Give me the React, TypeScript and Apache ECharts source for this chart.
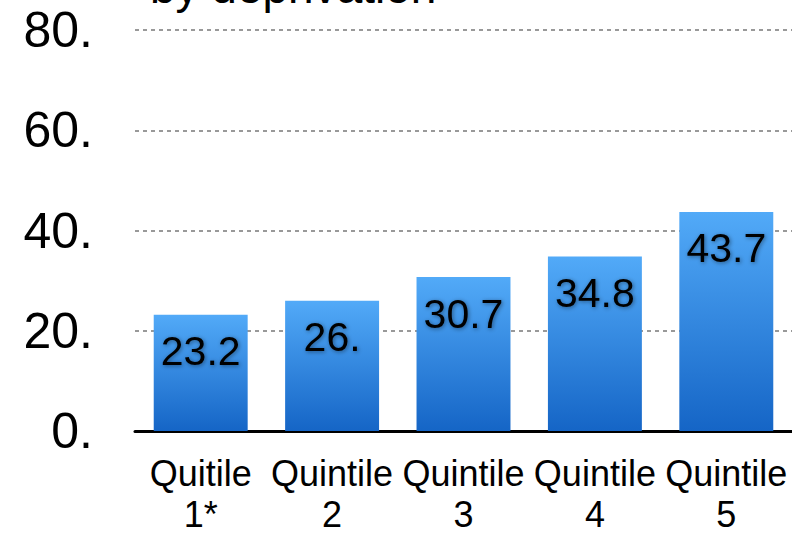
import React, { useEffect, useRef } from "react";
import * as echarts from "echarts";

const categories = ["Quitile\n1*", "Quintile\n2", "Quintile\n3", "Quintile\n4", "Quintile\n5"];
const values = [23.2, 26.0, 30.7, 34.8, 43.7];
const valueLabels = ["23.2", "26.", "30.7", "34.8", "43.7"];
const titleText = "by deprivation";

export default function App() {
  const ref = useRef<HTMLDivElement>(null);
  useEffect(() => {
    const chart = echarts.init(ref.current!, null, { renderer: "svg" });
    chart.setOption({
      animation: false,
      textStyle: { fontFamily: "Liberation Sans, Arial, sans-serif" },
      graphic: [
        {
          type: "text",
          left: 150,
          top: -36,
          style: { text: titleText, fontSize: 46, fill: "#000", fontFamily: "Liberation Sans, Arial, sans-serif" },
        },
      ],
      grid: { left: 135, right: 0, top: 30, bottom: 102, containLabel: false, outerBoundsMode: "none" },
      xAxis: {
        type: "category",
        data: categories,
        axisLine: { lineStyle: { color: "#000", width: 3 } },
        axisTick: { show: false },
        axisLabel: { fontSize: 36, lineHeight: 41, color: "#000", margin: 22, interval: 0 },
      },
      yAxis: {
        type: "value",
        min: 0,
        max: 80,
        interval: 20,
        axisLabel: { fontSize: 50, color: "#000", margin: 42, formatter: (v: number) => v + "." },
        splitLine: { lineStyle: { color: "#999", type: [4, 4], width: 2 } },
        axisLine: { show: false },
        axisTick: { show: false },
      },
      series: [
        {
          type: "bar",
          data: values,
          barCategoryGap: "28.5%",
          itemStyle: {
            color: new echarts.graphic.LinearGradient(0, 0, 0, 1, [
              { offset: 0, color: "#52aaf8" },
              { offset: 1, color: "#1565c6" },
            ]),
          },
          label: {
            show: true,
            position: "insideTop",
            distance: 16,
            fontSize: 41,
            color: "#000",
            textShadowColor: "rgba(0,0,0,0.45)",
            textShadowBlur: 4,
            textShadowOffsetX: 1,
            textShadowOffsetY: 1,
            formatter: (p: any) => valueLabels[p.dataIndex],
          },
        },
      ],
    });
    return () => chart.dispose();
  }, []);
  return <div ref={ref} style={{ width: 792, height: 533, position: "absolute", left: 0, top: 0 }} />;
}
